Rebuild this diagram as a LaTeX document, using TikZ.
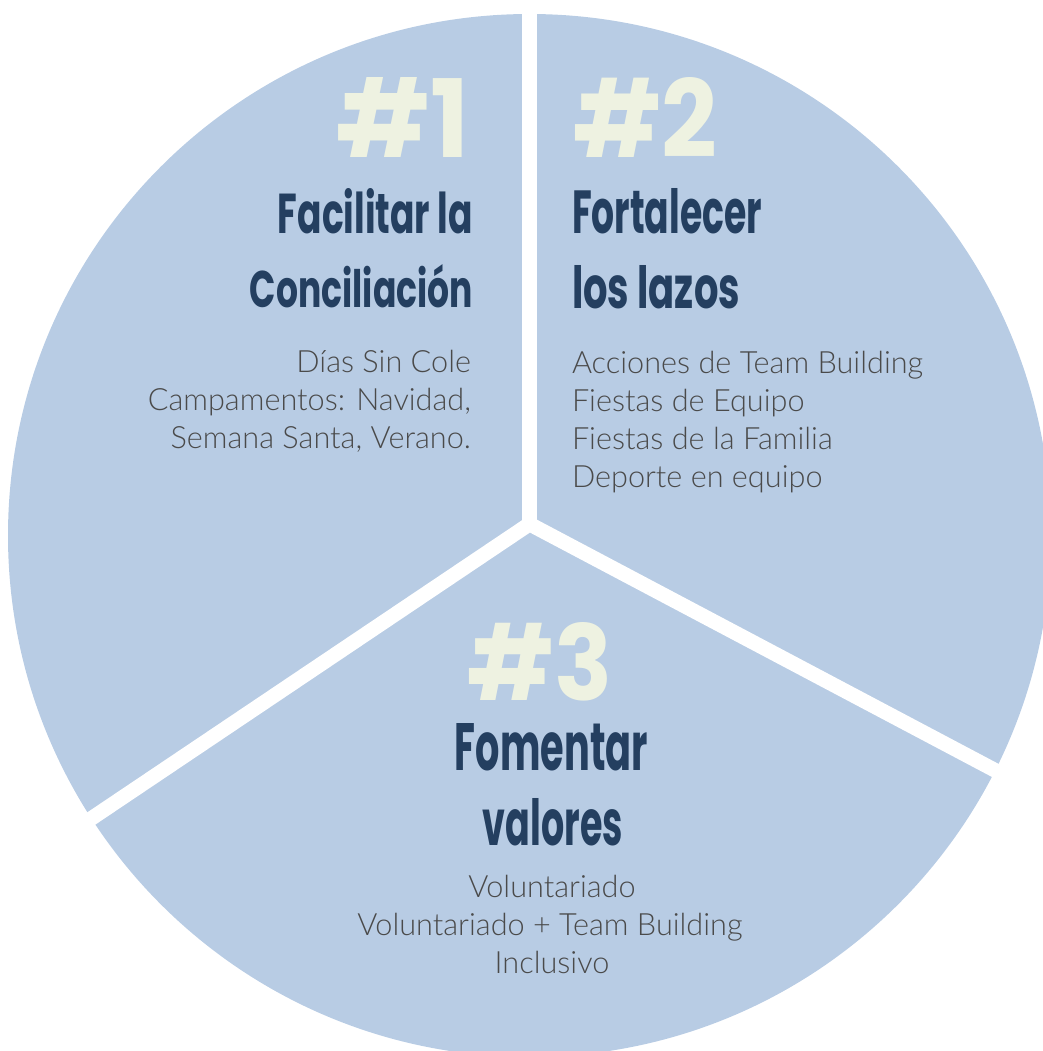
\documentclass[tikz,border=0pt]{standalone}
\usepackage{fontspec}
\usepackage{graphicx}
\setmainfont{Lato}
\newfontfamily\bodyfont{Lato Light}
\newfontfamily\headfont{Poppins}
\definecolor{piec}{HTML}{B8CCE4}
\definecolor{headc}{HTML}{243F60}
\definecolor{numc}{HTML}{EEF2E1}
\definecolor{bodyc}{HTML}{4A4A4A}
\begin{document}
\begin{tikzpicture}[x=0.75pt,y=-0.75pt,
  hd/.style={inner sep=0pt, outer sep=0pt, text=headc, font=\headfont\bfseries},
  num/.style={inner sep=0pt, outer sep=0pt, text=numc, font=\headfont\bfseries},
  bd/.style={inner sep=0pt, outer sep=0pt, text=bodyc, font=\bodyfont\fontsize{23}{27}\selectfont},
  sepline/.style={draw=white, line width=11pt}]
\useasboundingbox (0,0) rectangle (1043,1051);
\clip (0,0) rectangle (1043,1051);
\fill[piec] (529.5,535.5) circle[radius=391.125pt];
\coordinate (J) at (529.5,524);
\coordinate (T) at (529.5,-20);
\coordinate (L) at (3.8,877.3);
\coordinate (R) at (1087.5,819.2);
\draw[sepline, line join=miter] (L) -- (J) -- (R);
\draw[sepline] (J) -- (T);
% sector 1
\node[num, anchor=base east] (n1) at (470,157) {\resizebox{99.75pt}{60pt}{\#1}};
\node[hd, anchor=base east] (h1a) at (473,233) {\resizebox{146.25pt}{33.75pt}{Facilitar la}};
\node[hd, anchor=base east] (h1b) at (473,307) {\resizebox{167.25pt}{32.25pt}{Conciliación}};
\node[bd, anchor=base east] (b1a) at (471,372) {Días Sin Cole};
\node[bd, anchor=base east] (b1b) at (471,410) {Campamentos: Navidad,};
\node[bd, anchor=base east] (b1c) at (471,448) {Semana Santa, Verano.};
% sector 2
\node[num, anchor=base west] (n2) at (573,157) {\resizebox{108pt}{60pt}{\#2}};
\node[hd, anchor=base west] (h2a) at (572,233) {\resizebox{142.5pt}{33.75pt}{Fortalecer}};
\node[hd, anchor=base west] (h2b) at (572,308) {\resizebox{126pt}{32.25pt}{los lazos}};
\node[bd, anchor=base west] (b2a) at (572,373) {Acciones de Team Building};
\node[bd, anchor=base west] (b2b) at (572,411) {Fiestas de Equipo};
\node[bd, anchor=base west] (b2c) at (572,449) {Fiestas de la Familia};
\node[bd, anchor=base west] (b2d) at (572,487) {Deporte en equipo};
% sector 3
\node[num, anchor=base] (n3) at (540.5,700) {\resizebox{108.75pt}{58.5pt}{\#3}};
\node[hd, anchor=base] (h3a) at (551.5,770) {\resizebox{144.75pt}{35.25pt}{Fomentar}};
\node[hd, anchor=base] (h3b) at (553,845) {\resizebox{105pt}{35.25pt}{valores}};
\node[bd, anchor=base] (b3a) at (552,897) {Voluntariado};
\node[bd, anchor=base] (b3b) at (550,935) {Voluntariado + Team Building};
\node[bd, anchor=base] (b3c) at (552,973) {Inclusivo};
\end{tikzpicture}
\end{document}
